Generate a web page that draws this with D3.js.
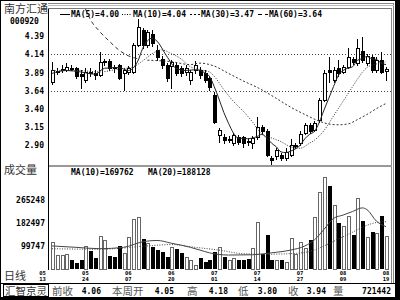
<!DOCTYPE html>
<html>
<head>
<meta charset="utf-8">
<script src="https://cdn.jsdelivr.net/npm/d3@7"></script>
<style>
body { margin: 0; background: #fff; }
svg { display: block; }
</style>
</head>
<body>
<div id="chart"></div>
<script>
// daily candles, index 0..70
const opens  = [3.76,3.90,3.92,3.93,3.96,3.95,3.87,3.79,3.90,3.88, 3.86,4.03,4.05,3.97,3.99,3.88,3.90,3.90,4.27,4.47,
                4.27,4.42,4.20,4.08,3.99,3.98,3.99,3.95,3.90,3.79, 3.92,3.93,3.89,3.82,3.59,3.04,3.01,2.97,2.93,3.01,
                3.01,2.96,2.93,3.01,3.15,3.10,2.73,2.75,2.77,2.73, 2.77,2.89,2.93,3.07,3.18,3.11,3.24,3.52,3.93,3.79,
                3.95,3.90,3.97,4.08,4.02,4.19,4.02,4.10,3.93,4.06, 3.91]
const highs  = [4.03,3.95,3.99,4.02,3.99,3.97,3.93,3.95,3.95,3.93, 4.17,4.08,4.07,4.00,4.01,3.95,3.98,4.30,4.62,4.50,
                4.47,4.47,4.27,4.12,4.02,4.06,4.02,3.98,3.99,3.93, 4.05,3.97,3.92,3.84,3.62,3.14,3.05,3.02,3.07,3.04,
                3.02,3.00,3.02,3.29,3.18,3.12,2.76,2.86,2.79,2.86, 2.98,2.93,3.10,3.20,3.21,3.23,3.55,3.92,4.10,3.97,
                4.06,4.00,4.23,4.10,4.35,4.38,4.15,4.13,4.10,4.17, 3.97]
const lows   = [3.73,3.87,3.90,3.91,3.92,3.82,3.68,3.76,3.84,3.81, 3.84,4.00,3.93,3.90,3.80,3.65,3.87,3.88,4.25,4.22,
                4.24,4.25,4.06,3.96,3.78,3.68,3.86,3.84,3.86,3.74, 3.88,3.82,3.76,3.66,3.20,2.95,2.93,2.94,2.90,2.92,
                2.88,2.90,2.86,2.99,3.05,2.75,2.63,2.72,2.70,2.70, 2.75,2.87,2.90,3.05,3.07,3.09,3.22,3.50,3.76,3.76,
                3.84,3.88,3.95,4.01,4.00,4.03,4.00,3.90,3.90,3.88, 3.79]
const closes = [3.93,3.91,3.94,3.97,3.95,3.84,3.85,3.90,3.88,3.86, 4.04,4.05,3.95,3.95,3.82,3.92,3.95,4.27,4.51,4.27,
                4.44,4.30,4.10,3.99,3.82,4.03,3.89,3.89,3.95,3.90, 3.99,3.86,3.79,3.69,3.22,3.11,2.97,2.99,3.04,2.95,
                2.93,2.95,3.00,3.15,3.09,2.77,2.70,2.84,2.73,2.81, 2.90,2.91,3.05,3.18,3.10,3.20,3.52,3.89,3.90,3.93,
                3.88,3.97,4.10,4.04,4.23,4.06,4.12,3.93,4.06,3.90, 3.94]
const volumes = [115000,67000,67000,71000,49000,38000,49000,100000,82000,56000,
                 136000,122000,63000,60000,100000,74000,132000,198000,205000,125000,
                 111000,96000,85000,78000,60000,96000,90000,74000,60000,50000,
                 31000,56000,42000,49000,78000,96000,60000,49000,55000,49000,
                 49000,52000,93000,187000,71000,140000,49000,49000,49000,42000,
                 128000,71000,115000,93000,122000,205000,296000,350000,317000,248000,
                 183000,172000,209000,140000,274000,190000,132000,151000,147000,209000,
                 136000]

// moving average lines: [candle index, value]
const ma5Pts = [[0,3.88],[3,3.92],[6,3.90],[9,3.87],[11,3.95],[14,3.96],[16,3.92],[18,4.05],[19,4.22],[21,4.36],
                [22,4.32],[24,4.12],[26,3.95],[28,3.92],[30,3.93],[32,3.89],[33,3.84],[34,3.70],[35,3.53],[36,3.35],
                [37,3.20],[38,3.07],[39,3.00],[41,2.99],[43,3.02],[44,3.05],[45,3.00],[46,2.93],[47,2.88],[48,2.81],
                [49,2.80],[50,2.82],[51,2.85],[52,2.90],[53,2.99],[54,3.05],[55,3.09],[56,3.21],[57,3.38],[58,3.54],
                [59,3.70],[60,3.85],[61,3.92],[62,3.95],[63,3.97],[64,4.06],[65,4.08],[66,4.11],[67,4.08],[68,4.07],
                [69,4.02],[70,4.00]]
const ma10Pts = [[0,3.92],[5,3.92],[10,3.90],[14,3.94],[17,3.97],[19,4.05],[21,4.15],[23,4.20],[25,4.15],[27,4.08],
                 [29,3.97],[31,3.93],[33,3.90],[34,3.84],[36,3.66],[38,3.50],[40,3.37],[42,3.22],[44,3.05],[46,3.00],
                 [48,2.95],[50,2.88],[52,2.86],[54,2.93],[55,2.97],[57,3.10],[59,3.30],[61,3.50],[63,3.70],[64,3.80],
                 [66,3.96],[68,4.01],[70,4.04]]
const ma30Pts = [[20,4.06],[25,4.04],[29,4.00],[31,4.02],[34,3.98],[37,3.88],[40,3.78],[43,3.69],[47,3.54],[50,3.42],
                 [53,3.32],[56,3.23],[58,3.19],[60,3.18],[62,3.19],[64,3.25],[66,3.32],[68,3.40],[70,3.47]]
const ma60Pts = [[7,4.76],[8,4.62],[10,4.45],[12,4.32],[14,4.20],[16,4.12],[18,4.08]]
const volMa10Pts = [[0,100000],[5,95000],[10,90000],[15,95000],[19,115000],[22,120000],[25,110000],[29,95000],
                    [31,85000],[33,75000],[37,67000],[42,68000],[46,75000],[50,85000],[53,100000],[55,122000],
                    [57,160000],[59,200000],[61,212000],[63,225000],[65,238000],[66,232000],[68,190000],[70,170000]]
const volMa20Pts = [[0,90000],[10,88000],[20,100000],[25,105000],[30,95000],[35,85000],[40,72000],[45,70000],
                    [50,72000],[54,80000],[57,100000],[60,125000],[63,150000],[66,175000],[68,185000],[70,188000]]

const priceTicks = ["4.39","4.14","3.89","3.64","3.40","3.15","2.90"]
const priceGrid = [4.14, 3.64]
const volTicks = [265248, 182497, 99747]
const dateIdx = [-2, 7, 16, 25, 34, 43, 52, 61, 70]
const dateMonth = ["05","05","06","06","07","07","07","08","08"]
const dateDay = ["13","24","07","20","01","14","27","09","19"]
const priceLegend = [["MA(5)", "4.00"], ["MA(10)", "4.04"], ["MA(30)", "3.47"], ["MA(60)", "3.64"]]
const volLegend = [["MA(10)", "169762"], ["MA(20)", "188128"]]
const infoLabels = ["前收", "本周开", "高", "低", "收", "量"]
const infoValues = ["4.06", "4.05", "4.18", "3.80", "3.94", "721442"]

const W = 400, H = 300
const plot = {left: 48, right: 391, top: 8, mid: 166, bottom: 269}
const monoFont = "'DejaVu Sans Mono', monospace"
const cjkFont = "'Noto Sans CJK SC', sans-serif"

const svg = d3.select("#chart").append("svg").attr("width", W).attr("height", H)
svg.append("rect").attr("width", W).attr("height", H).attr("fill", "#fff")

const x = d3.scaleLinear().domain([0, 70]).range([52, 386])
const y = d3.scaleLinear().domain([2.90, 4.39]).range([145.3, 36])
const yv = d3.scaleLinear().domain([20000, 390000]).range([268, 166])

// frames
const frame = svg.append("g").attr("shape-rendering", "crispEdges")
frame.append("rect").attr("x", 0.5).attr("y", 0.5).attr("width", 395).attr("height", 297)
    .attr("fill", "none").attr("stroke", "#000")
frame.append("rect").attr("x", 396).attr("y", 0).attr("width", 4).attr("height", 300).attr("fill", "#000")
frame.append("rect").attr("x", 0).attr("y", 298).attr("width", 400).attr("height", 2).attr("fill", "#000")
frame.append("line").attr("x1", 393.5).attr("x2", 393.5).attr("y1", 3).attr("y2", 283).attr("stroke", "#888")
frame.append("line").attr("x1", 48).attr("x2", 393.5).attr("y1", 3.5).attr("y2", 3.5).attr("stroke", "#888")
frame.append("line").attr("x1", 48).attr("x2", 393.5).attr("y1", 5.5).attr("y2", 5.5).attr("stroke", "#bbb")

const clipP = svg.append("clipPath").attr("id", "clipPrice")
clipP.append("rect").attr("x", plot.left + 1).attr("y", plot.top + 1)
    .attr("width", plot.right - plot.left - 1).attr("height", plot.mid - plot.top - 2)
const clipV = svg.append("clipPath").attr("id", "clipVol")
clipV.append("rect").attr("x", plot.left + 1).attr("y", plot.mid + 1)
    .attr("width", plot.right - plot.left - 1).attr("height", plot.bottom - plot.mid)

// gridlines
priceGrid.forEach(function (v) {
    frame.append("line").attr("x1", plot.left).attr("x2", plot.right)
        .attr("y1", Math.round(y(v)) + 0.5).attr("y2", Math.round(y(v)) + 0.5)
        .attr("stroke", "#444").attr("stroke-dasharray", "1,2")
})

// candles
const candles = svg.append("g").attr("clip-path", "url(#clipPrice)").attr("shape-rendering", "crispEdges")
for (let i = 0; i < closes.length; i++) {
    let px = Math.round(x(i))
    let up = closes[i] >= opens[i]
    candles.append("line").attr("x1", px + 0.5).attr("x2", px + 0.5)
        .attr("y1", Math.round(y(highs[i]))).attr("y2", Math.round(y(lows[i])) + 1)
        .attr("stroke", "#000")
    let top = Math.round(y(Math.max(opens[i], closes[i])))
    let bot = Math.round(y(Math.min(opens[i], closes[i])))
    if (up) {
        candles.append("rect").attr("x", px - 0.5).attr("y", top + 0.5)
            .attr("width", 3).attr("height", Math.max(bot - top, 1))
            .attr("fill", "#fff").attr("stroke", "#000")
    } else {
        candles.append("rect").attr("x", px - 1).attr("y", top)
            .attr("width", 4).attr("height", Math.max(bot - top, 1) + 1)
            .attr("fill", "#000")
    }
}

// price MA lines
const pline = d3.line().x(d => x(d[0])).y(d => y(d[1])).curve(d3.curveMonotoneX)
const maGroup = svg.append("g").attr("clip-path", "url(#clipPrice)").attr("fill", "none")
maGroup.append("path").attr("d", pline(ma5Pts)).attr("stroke", "#222").attr("stroke-width", 1)
maGroup.append("path").attr("d", pline(ma10Pts)).attr("stroke", "#333").attr("stroke-width", 1).attr("stroke-dasharray", "1,1.5")
maGroup.append("path").attr("d", pline(ma30Pts)).attr("stroke", "#333").attr("stroke-width", 1).attr("stroke-dasharray", "2,2")
maGroup.append("path").attr("d", pline(ma60Pts)).attr("stroke", "#333").attr("stroke-width", 1).attr("stroke-dasharray", "4,3")

// volume bars
const vol = svg.append("g").attr("clip-path", "url(#clipVol)").attr("shape-rendering", "crispEdges")
for (let i = 0; i < volumes.length; i++) {
    let px = Math.round(x(i))
    let top = Math.round(yv(volumes[i]))
    if (closes[i] >= opens[i]) {
        vol.append("rect").attr("x", px - 0.5).attr("y", top + 0.5)
            .attr("width", 3).attr("height", plot.bottom - top)
            .attr("fill", "#fff").attr("stroke", "#666")
    } else {
        vol.append("rect").attr("x", px - 1).attr("y", top)
            .attr("width", 4).attr("height", plot.bottom - top)
            .attr("fill", "#000")
    }
}
const vline = d3.line().x(d => x(d[0])).y(d => yv(d[1])).curve(d3.curveMonotoneX)
const vma = svg.append("g").attr("clip-path", "url(#clipVol)").attr("fill", "none")
vma.append("path").attr("d", vline(volMa10Pts)).attr("stroke", "#444")
vma.append("path").attr("d", vline(volMa20Pts)).attr("stroke", "#444").attr("stroke-dasharray", "1,1.5")

// plot borders
frame.append("line").attr("x1", plot.left + 0.5).attr("x2", plot.left + 0.5).attr("y1", plot.top).attr("y2", plot.bottom + 1).attr("stroke", "#000")
frame.append("line").attr("x1", plot.left).attr("x2", plot.right).attr("y1", plot.top + 0.5).attr("y2", plot.top + 0.5).attr("stroke", "#777")
frame.append("line").attr("x1", plot.right + 0.5).attr("x2", plot.right + 0.5).attr("y1", plot.top).attr("y2", 283).attr("stroke", "#888")
frame.append("rect").attr("x", plot.left + 1).attr("y", plot.mid - 1).attr("width", plot.right - plot.left).attr("height", 2).attr("fill", "#999")

// left column texts
const txt = svg.append("g")
txt.append("text").attr("x", 4).attr("y", 13).attr("font-family", cjkFont).attr("font-size", 11)
    .attr("fill", "#333").text("南方汇通")
txt.append("text").attr("x", 10).attr("y", 24).attr("font-family", monoFont).attr("font-size", 8)
    .attr("font-weight", "bold").text("000920")
priceTicks.forEach(function (t) {
    txt.append("text").attr("x", 44).attr("y", y(+t) + 3).attr("text-anchor", "end")
        .attr("font-family", monoFont).attr("font-size", 8).attr("font-weight", "bold").text(t)
})
txt.append("text").attr("x", 4).attr("y", 174).attr("font-family", cjkFont).attr("font-size", 11)
    .attr("fill", "#333").text("成交量")
volTicks.forEach(function (t) {
    txt.append("text").attr("x", 45).attr("y", yv(t) + 3).attr("text-anchor", "end")
        .attr("font-family", monoFont).attr("font-size", 8).attr("font-weight", "bold").text(t)
})
txt.append("text").attr("x", 4).attr("y", 280).attr("font-family", cjkFont).attr("font-size", 11)
    .attr("fill", "#333").text("日线")

// date labels
dateIdx.forEach(function (d, k) {
    let px = x(d)
    txt.append("text").attr("x", px).attr("y", 275).attr("text-anchor", "middle")
        .attr("font-family", monoFont).attr("font-size", 5.5).attr("font-weight", "bold").text(dateMonth[k])
    txt.append("text").attr("x", px).attr("y", 281).attr("text-anchor", "middle")
        .attr("font-family", monoFont).attr("font-size", 5.5).attr("font-weight", "bold").text(dateDay[k])
})

// price legend
const legX = [60, 122, 190, 258]
const legDash = [null, "1,1.5", "2,2", "4,3"]
priceLegend.forEach(function (d, k) {
    let l = txt.append("line").attr("x1", legX[k]).attr("x2", legX[k] + 10).attr("y1", 14.5).attr("y2", 14.5)
        .attr("stroke", "#000")
    if (legDash[k]) l.attr("stroke-dasharray", legDash[k])
    txt.append("text").attr("x", legX[k] + 11).attr("y", 17).attr("font-family", monoFont)
        .attr("font-size", 8).attr("font-weight", "bold").text(d[0] + "=" + d[1])
})
// volume legend
const vlegX = [71, 148]
volLegend.forEach(function (d, k) {
    txt.append("text").attr("x", vlegX[k]).attr("y", 175).attr("font-family", monoFont)
        .attr("font-size", 8).attr("font-weight", "bold").text(d[0] + "=" + d[1])
})

// info bar
const info = svg.append("g")
info.append("line").attr("x1", 1).attr("x2", 396).attr("y1", 283.5).attr("y2", 283.5).attr("stroke", "#000").attr("shape-rendering", "crispEdges")
info.append("rect").attr("x", 3.5).attr("y", 284.5).attr("width", 45).attr("height", 12)
    .attr("fill", "none").attr("stroke", "#000").attr("shape-rendering", "crispEdges")
info.append("text").attr("x", 5).attr("y", 295).attr("font-family", cjkFont).attr("font-size", 10.5)
    .attr("fill", "#333").text("汇智京灵")
const infoLabelX = [52, 112, 187, 238, 288, 333]
const infoValueX = [101, 174, 228, 277, 326, 391]
infoLabels.forEach(function (t, k) {
    info.append("text").attr("x", infoLabelX[k]).attr("y", 295).attr("font-family", cjkFont)
        .attr("font-size", 10.5).attr("fill", "#555").text(t)
    info.append("text").attr("x", infoValueX[k]).attr("y", 294).attr("text-anchor", "end")
        .attr("font-family", monoFont).attr("font-size", 8).attr("font-weight", "bold").text(infoValues[k])
})
</script>
</body>
</html>
